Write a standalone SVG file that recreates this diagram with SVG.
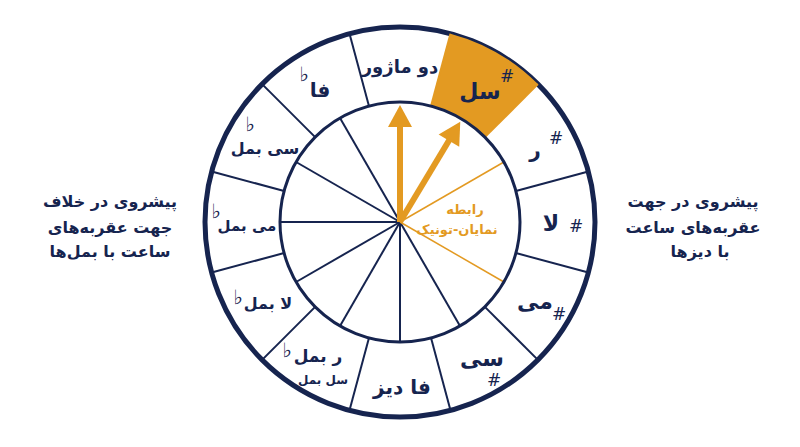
<svg xmlns="http://www.w3.org/2000/svg" width="800" height="447" viewBox="0 0 800 447">
<defs>
<style>
.lbl{font-family:"DejaVu Sans",sans-serif;font-weight:bold;fill:#16244f;text-anchor:middle}
.acc{font-family:"DejaVu Sans",sans-serif;fill:#16244f;text-anchor:middle}
.side{font-family:"DejaVu Sans",sans-serif;font-weight:bold;fill:#16244f;text-anchor:middle;font-size:16px}
.org{font-family:"DejaVu Sans",sans-serif;font-weight:bold;fill:#e39a22;text-anchor:middle;font-size:13px}
.div{stroke:#16244f;stroke-width:2;fill:none}
</style>
<g id="arrow"><rect x="397" y="126" width="6" height="96" fill="#e39a22"/><polygon points="388,127 412,127 400,105" fill="#e39a22"/></g>
</defs>
<rect width="800" height="447" fill="#ffffff"/>
<g id="wheel">
<circle cx="400" cy="222" r="195" fill="#ffffff" stroke="#16244f" stroke-width="5"/>
<path id="g-sharp-sector" d="M431.06,106.09 L450.47,33.65 A195,195 0 0 1 537.89,84.11 L484.85,137.15 A120,120 0 0 0 431.06,106.09 Z" fill="#e39a22"/>
</g>
<g id="connectors">
<g class="div">
<line x1="450.47" y1="33.65" x2="431.06" y2="106.09" stroke="#e39a22"/>
<line x1="537.89" y1="84.11" x2="484.85" y2="137.15" stroke="#e39a22"/>
<line x1="588.35" y1="171.53" x2="515.91" y2="190.94"/>
<line x1="588.35" y1="272.47" x2="515.91" y2="253.06"/>
<line x1="537.89" y1="359.89" x2="484.85" y2="306.85"/>
<line x1="450.47" y1="410.35" x2="431.06" y2="337.91"/>
<line x1="349.53" y1="410.35" x2="368.94" y2="337.91"/>
<line x1="262.11" y1="359.89" x2="315.15" y2="306.85"/>
<line x1="211.65" y1="272.47" x2="284.09" y2="253.06"/>
<line x1="211.65" y1="171.53" x2="284.09" y2="190.94"/>
<line x1="262.11" y1="84.11" x2="315.15" y2="137.15"/>
<line x1="349.53" y1="33.65" x2="368.94" y2="106.09"/>
<line x1="400" y1="222" x2="460" y2="325.92"/>
<line x1="400" y1="222" x2="400" y2="342"/>
<line x1="400" y1="222" x2="340" y2="325.92"/>
<line x1="400" y1="222" x2="296.08" y2="282"/>
<line x1="400" y1="222" x2="280" y2="222"/>
<line x1="400" y1="222" x2="296.08" y2="162"/>
<line x1="400" y1="222" x2="340" y2="118.08"/>
</g>
<line x1="400" y1="222" x2="503.92" y2="162" stroke="#e39a22" stroke-width="1.5"/>
<line x1="400" y1="222" x2="503.92" y2="282" stroke="#e39a22" stroke-width="1.5"/>
<circle cx="400" cy="222" r="120" fill="none" stroke="#16244f" stroke-width="3"/>
<use href="#arrow"/>
<use href="#arrow" transform="rotate(31 400 222)"/>
</g>
<g id="n-c"><text class="lbl" x="400" y="73" font-size="18">دو ماژور</text></g>
<g id="n-g"><text class="lbl" x="480" y="99" font-size="22">سل</text><text class="acc" x="507" y="82" font-size="17">#</text></g>
<g id="n-d"><text class="lbl" x="535" y="157" font-size="20">ر</text><text class="acc" x="556" y="144" font-size="17">#</text></g>
<g id="n-a"><text class="lbl" x="551" y="231" font-size="22">لا</text><text class="acc" x="576" y="232" font-size="17">#</text></g>
<g id="n-e"><text class="lbl" x="535" y="309" font-size="22">می</text><text class="acc" x="559" y="320" font-size="17">#</text></g>
<g id="n-b"><text class="lbl" x="482" y="366" font-size="22">سی</text><text class="acc" x="494" y="386" font-size="17">#</text></g>
<g id="n-fs"><text class="lbl" x="402" y="394" font-size="20">فا دیز</text></g>
<g id="n-db"><text class="lbl" x="318" y="362" font-size="17">ر بمل</text><text class="acc" x="287" y="357" font-size="20">♭</text><text class="lbl" x="323" y="384" font-size="12" font-weight="normal">سل بمل</text></g>
<g id="n-ab"><text class="lbl" x="268" y="309" font-size="16">لا بمل</text><text class="acc" x="238" y="304" font-size="20">♭</text></g>
<g id="n-eb"><text class="lbl" x="247" y="231" font-size="15">می بمل</text><text class="acc" x="216" y="218" font-size="20">♭</text></g>
<g id="n-bb"><text class="lbl" x="265" y="154" font-size="16">سی بمل</text><text class="acc" x="250" y="131" font-size="20">♭</text></g>
<g id="n-f"><text class="lbl" x="320" y="97" font-size="20">فا</text><text class="acc" x="304" y="81" font-size="20">♭</text></g>
<g id="n-rel"><text class="org" x="465" y="214">رابطه</text><text class="org" x="457" y="234">نمایان-تونیک</text></g>
<g id="left-note"><text class="side" x="110" y="207">پیشروی در خلاف</text><text class="side" x="110" y="233">جهت عقربه‌های</text><text class="side" x="110" y="257">ساعت با بمل‌ها</text></g>
<g id="right-note"><text class="side" x="693" y="207">پیشروی در جهت</text><text class="side" x="693" y="233">عقربه‌های ساعت</text><text class="side" x="700" y="257">با دیزها</text></g>
</svg>
